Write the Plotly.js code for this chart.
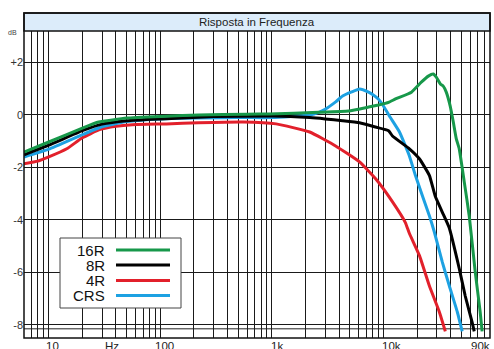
<!DOCTYPE html>
<html>
<head>
<meta charset="utf-8">
<script src="https://cdn.plot.ly/plotly-3.0.1.min.js"></script>
<style>html,body{margin:0;padding:0;background:#fff;}#chart{width:494px;height:349px;}</style>
</head>
<body>
<div id="chart"></div>
<script>
// Series names and colours
var seriesNames = ['16R', '8R', '4R', 'CRS'];
var seriesColors = ['#17984a', '#000000', '#e2202b', '#1da1e2'];

// 16R (green)
var freq16 = [6, 10, 20, 28, 50, 113, 220, 600, 940, 2630, 4870, 7350, 9020, 11100, 12800, 17800, 21800, 25200, 27900, 29700, 32300, 34300, 36500, 39600, 42200, 44900, 47700, 52900, 58600, 66300, 73400, 76500];
var db16   = [-1.42, -1.03, -0.5, -0.27, -0.12, -0.05, 0, 0.03, 0.04, 0.1, 0.15, 0.3, 0.38, 0.48, 0.61, 0.87, 1.25, 1.48, 1.56, 1.44, 1.18, 1.1, 0.87, 0.34, -0.27, -0.91, -1.29, -2.55, -3.84, -5.97, -7.49, -8.25];

// 8R (black)
var freq8 = [6, 10, 20, 30, 50, 100, 300, 1000, 2180, 3000, 4300, 6100, 8490, 11100, 12030, 17060, 20950, 25750, 29100, 33600, 38800, 47700, 54000, 62300, 65000];
var db8   = [-1.52, -1.15, -0.6, -0.35, -0.22, -0.15, -0.06, -0.04, -0.1, -0.15, -0.22, -0.3, -0.46, -0.6, -0.8, -1.29, -1.67, -2.3, -3.1, -3.7, -4.3, -5.85, -6.9, -7.9, -8.25];

// 4R (red)
var freq4 = [6, 8, 10, 14.5, 20, 28.5, 40, 56, 113, 220, 550, 1090, 2180, 3720, 6100, 8500, 12000, 15700, 17000, 21000, 25700, 31600, 35800];
var db4   = [-1.86, -1.76, -1.6, -1.29, -0.87, -0.56, -0.43, -0.37, -0.34, -0.3, -0.27, -0.34, -0.65, -1.18, -1.79, -2.43, -3.3, -4.1, -4.5, -5.36, -6.5, -7.5, -8.25];

// CRS (blue)
var freqCRS = [6, 10, 20, 30, 50, 100, 500, 1000, 2180, 2630, 3030, 3725, 4300, 5180, 6110, 7340, 7980, 9020, 9800, 11320, 13900, 17060, 19300, 22300, 25750, 28500, 33600, 38800, 45800, 50700];
var dbCRS   = [-1.6, -1.3, -0.75, -0.45, -0.25, -0.15, -0.1, -0.1, 0.0, 0.1, 0.23, 0.5, 0.72, 0.88, 0.99, 0.87, 0.78, 0.6, 0.4, -0.05, -0.65, -1.56, -2.3, -3.08, -3.84, -4.45, -5.6, -6.5, -7.5, -8.25];

// Axis ticks
var xGridVals = [7,8,9,10,20,30,40,50,60,70,80,90,100,200,300,400,500,600,700,800,900,1000,2000,3000,4000,5000,6000,7000,8000,9000,10000,20000,30000,40000,50000,60000,70000,80000,90000];
var xLabels = ['10', 'Hz', '100', '1k', '10k', '90k'];
var xLabelPx = [52, 112, 164, 277, 391, 492];
var yTickVals = [2, 0, -2, -4, -6, -8];
var yTickText = ['+2', '0', '-2', '-4', '-6', '-8'];
var titleText = 'Risposta in Frequenza';

var L = 24, R = 490, T = 31, B = 338, W = 494, H = 349;
var pw = R - L, ph = B - T;
function px2paperX(p) { return (p - L) / pw; }
function px2paperY(p) { return (B - p) / ph; }

var allF = [freq16, freq8, freq4, freqCRS];
var allD = [db16, db8, db4, dbCRS];
var traces = [];
for (var i = 0; i < 4; i++) {
  traces.push({
    x: allF[i], y: allD[i], type: 'scatter', mode: 'lines', name: seriesNames[i],
    line: {color: seriesColors[i], width: 3, shape: 'spline', smoothing: 0.4},
    showlegend: false, hoverinfo: 'skip'
  });
}
// draw order: red, blue, black, green on top
traces = [traces[2], traces[3], traces[1], traces[0]];

var shapes = [
  // title bar
  {type: 'rect', xref: 'paper', yref: 'paper', x0: 0, x1: 1, y0: 1, y1: px2paperY(13), fillcolor: '#dcecfa', line: {color: '#111', width: 1.5}, layer: 'above'},
  // outer frame
  {type: 'rect', xref: 'paper', yref: 'paper', x0: 0, x1: 1, y0: 0, y1: px2paperY(13), line: {color: '#111', width: 1.5}, layer: 'above'},
  // extra line below -8
  {type: 'line', xref: 'paper', yref: 'y', x0: 0, x1: 1, y0: -8.15, y1: -8.15, line: {color: '#222', width: 1}, layer: 'below'}
];

// legend box (manual: text left of line)
var legTop = 238, legBot = 308, legL = 60, legR = 181;
shapes.push({type: 'rect', xref: 'paper', yref: 'paper', x0: px2paperX(legL), x1: px2paperX(legR), y0: px2paperY(legBot), y1: px2paperY(legTop), fillcolor: '#ffffff', line: {color: '#444', width: 1}, layer: 'above'});
var rowY = [250, 265, 280.5, 295.5];
var annotations = [];
for (var j = 0; j < 4; j++) {
  shapes.push({type: 'line', xref: 'paper', yref: 'paper', x0: px2paperX(116), x1: px2paperX(170), y0: px2paperY(rowY[j]), y1: px2paperY(rowY[j]), line: {color: seriesColors[j], width: 3}, layer: 'above'});
  annotations.push({xref: 'paper', yref: 'paper', x: px2paperX(107), y: px2paperY(rowY[j]), xanchor: 'right', yanchor: 'middle', text: seriesNames[j], showarrow: false, font: {family: 'Arial, Liberation Sans, sans-serif', size: 15, color: '#111'}});
}
// title
annotations.push({xref: 'paper', yref: 'paper', x: 0.5, y: px2paperY(22), xanchor: 'center', yanchor: 'middle', text: titleText, showarrow: false, font: {family: 'Arial, Liberation Sans, sans-serif', size: 11.5, color: '#222'}});
// dB unit
annotations.push({xref: 'paper', yref: 'paper', x: px2paperX(19), y: px2paperY(32), xanchor: 'right', yanchor: 'middle', text: 'dB', showarrow: false, font: {family: 'Arial, Liberation Sans, sans-serif', size: 7, color: '#444'}});
// x labels
for (var k = 0; k < xLabels.length; k++) {
  var last = (k === xLabels.length - 1);
  annotations.push({xref: 'paper', yref: 'paper', x: px2paperX(xLabelPx[k]), y: 0, xanchor: last ? 'right' : 'center', yanchor: 'top', yshift: 0, text: xLabels[k], showarrow: false, font: {family: 'Arial, Liberation Sans, sans-serif', size: 11.5, color: '#222'}});
}

var layout = {
  width: W, height: H,
  margin: {l: L, r: W - R, t: T, b: H - B, pad: 0},
  paper_bgcolor: '#ffffff', plot_bgcolor: '#ffffff',
  showlegend: false,
  xaxis: {type: 'log', range: [Math.log10(6), Math.log10(90000)], tickmode: 'array', tickvals: xGridVals, showticklabels: false, ticks: '', showgrid: true, gridcolor: '#1a1a1a', gridwidth: 1, zeroline: false, showline: false, fixedrange: true},
  yaxis: {range: [-8.5, 3.2], tickmode: 'array', tickvals: yTickVals, ticktext: yTickText, ticks: '', showgrid: true, gridcolor: '#1a1a1a', gridwidth: 1, zeroline: false, showline: false, tickfont: {family: 'Arial, Liberation Sans, sans-serif', size: 11, color: '#333'}, fixedrange: true},
  shapes: shapes,
  annotations: annotations
};

Plotly.newPlot('chart', traces, layout, {displayModeBar: false, staticPlot: true});
</script>
</body>
</html>
